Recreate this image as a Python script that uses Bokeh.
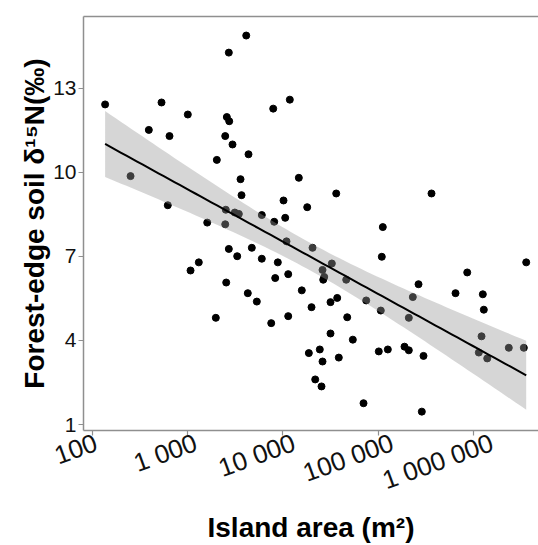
import math
import numpy as np
from bokeh.plotting import figure
from bokeh.models import FixedTicker, LinearAxis, LogAxis, Range1d, ColumnDataSource
from bokeh.embed import file_html
from bokeh.resources import INLINE

# ---- data ----
area_m2 = [135, 250, 389, 529, 642, 616, 1000, 2018, 1600, 2474, 2474, 2571, 2725, 2699, 4114,
           2951, 4347, 3583, 3671, 2509, 3120, 3439, 5999, 7907, 11820, 14700, 36350, 365200,
           10150, 18010, 10570, 8100, 112300, 1068, 1305, 2699, 3307, 4710, 5999, 2534, 4273,
           5316, 1970, 7534, 10910, 8839, 20480, 109600, 32690, 26090, 27190, 26540, 8299,
           11370, 46300, 15800, 19990, 31660, 37240, 75120, 107000, 266700, 232200, 210800,
           653100, 867000, 1265000, 1296000, 3617000, 11370, 47430, 31660, 54330, 18730,
           24430, 26090, 38700, 101900, 126800, 189900, 210800, 300900, 1226000, 1148000,
           1407000, 2373000, 3413000, 21860, 25460, 70400, 288800]
d15n = [12.43, 9.87, 11.52, 12.5, 11.30, 8.83, 12.07, 10.45, 8.21, 8.15, 11.30, 11.98, 11.83,
        14.28, 14.89, 11.0, 10.65, 9.76, 9.19, 8.67, 8.57, 8.52, 8.48, 12.28, 12.6, 9.81, 9.25,
        9.25, 9.0, 8.76, 8.38, 8.24, 8.05, 6.5, 6.79, 7.27, 7.01, 7.31, 6.92, 6.07, 5.69, 5.39,
        4.81, 4.62, 7.54, 6.79, 7.31, 6.99, 6.75, 6.52, 6.27, 6.17, 6.23, 6.37, 6.17, 5.79, 5.19,
        5.37, 5.52, 5.43, 5.07, 6.01, 5.55, 4.81, 5.69, 6.43, 5.65, 5.10, 6.79, 4.87, 4.83, 4.25,
        4.03, 3.55, 3.68, 3.25, 3.39, 3.61, 3.68, 3.78, 3.65, 3.45, 4.15, 3.57, 3.36, 3.74, 3.74,
        2.61, 2.36, 1.76, 1.46]
x_ticks = [100, 1000, 10000, 100000, 1000000]
x_tick_labels = ["100", "1 000", "10 000", "100 000", "1 000 000"]
y_ticks = [1, 4, 7, 10, 13]
assert len(area_m2) == len(d15n)

# ---- linear model on log10(area) with 95% confidence band (as geom_smooth lm) ----
lx = np.log10(np.array(area_m2, dtype=float))
yy = np.array(d15n, dtype=float)
n = len(lx)
xbar = lx.mean()
sxx = ((lx - xbar) ** 2).sum()
slope = ((lx - xbar) * (yy - yy.mean())).sum() / sxx
icpt = yy.mean() - slope * xbar
resid = yy - (icpt + slope * lx)
s = math.sqrt((resid ** 2).sum() / (n - 2))
t_crit = 1.987
gx = np.linspace(lx.min(), lx.max(), 80)
gy = icpt + slope * gx
se = s * np.sqrt(1.0 / n + (gx - xbar) ** 2 / sxx)
fit = ColumnDataSource(dict(x=10 ** gx, y=gy, lo=gy - t_crit * se, hi=gy + t_crit * se))

FONT = "Liberation Sans"
AXC = "#8f8f8f"
X0, X1 = 80.0, 4.87e6
Y0, Y1 = 0.786, 15.57
FL, FT, FW, FH = 83, 16, 455, 414
PX_PER_DECADE = FW / math.log10(X1 / X0)

p = figure(width=538, height=545, frame_width=FW, frame_height=FH,
           x_axis_type="log", x_range=Range1d(X0, X1), y_range=Range1d(Y0, Y1),
           output_backend="svg", toolbar_location=None,
           min_border_left=FL, min_border_right=0, min_border_top=FT, min_border_bottom=115)
p.outline_line_color = None
p.background_fill_color = "white"
p.border_fill_color = "white"
p.xgrid.visible = False
p.ygrid.visible = False

p.scatter(area_m2, d15n, size=7, color="black")
p.varea(x="x", y1="lo", y2="hi", source=fit, fill_color="#999999", fill_alpha=0.4)
p.line(x="x", y="y", source=fit, line_color="black", line_width=2)

# primary x axis: line and tick marks only
xa = p.xaxis[0]
xa.ticker = FixedTicker(ticks=x_ticks)
xa.major_label_overrides = {float(t): "" for t in x_ticks}
xa.major_label_text_color = None
xa.major_label_text_font_size = "1px"
xa.major_label_standoff = 0

ya = p.yaxis[0]
ya.ticker = FixedTicker(ticks=y_ticks)
ya.major_label_text_font_size = "21px"
ya.major_label_text_color = "#111111"
ya.major_label_standoff = 2
ya.axis_label = "Forest-edge soil δ¹⁵N(‰)"
ya.axis_label_standoff = 0
for ax in (xa, ya):
    ax.minor_tick_line_color = None
    ax.axis_line_color = AXC
    ax.axis_line_width = 1.5
    ax.major_tick_line_color = AXC
    ax.major_tick_line_width = 1.2
    ax.major_tick_out = 5
    ax.major_tick_in = 0
    ax.major_label_text_font = FONT
    ax.axis_label_text_font = FONT
    ax.axis_label_text_font_size = "28px"
    ax.axis_label_text_font_style = "bold"
    ax.axis_label_text_color = "black"

# second bottom axis carrying the tilted tick labels, anchored ~3/4 along each text
TH = math.radians(20)
XS = 26
lab_pos = []
for t, lab in zip(x_ticks, x_tick_labels):
    w = XS * (0.556 * sum(c.isdigit() for c in lab) + 0.278 * lab.count(" "))
    shift_px = 0.23 * w * math.cos(TH) - 6
    lab_pos.append(t * 10 ** (shift_px / PX_PER_DECADE))
xb = LogAxis(ticker=FixedTicker(ticks=lab_pos),
             major_label_overrides={float(v): l for v, l in zip(lab_pos, x_tick_labels)},
             axis_line_color=None, major_tick_line_color=None, minor_tick_line_color=None,
             major_label_orientation=TH, major_label_standoff=0,
             major_label_text_font=FONT, major_label_text_font_size=f"{XS}px",
             major_label_text_color="#111111",
             axis_label="Island area (m²)", axis_label_standoff=0,
             axis_label_text_font=FONT, axis_label_text_font_size="28px",
             axis_label_text_font_style="bold", axis_label_text_color="black")
p.add_layout(xb, "below")

top = LinearAxis(axis_line_color=AXC, axis_line_width=1.5, major_tick_line_color=None,
                 minor_tick_line_color=None, major_label_text_color=None,
                 ticker=FixedTicker(ticks=[]))
p.add_layout(top, "above")

open("out.html", "w").write(file_html(p, INLINE))
